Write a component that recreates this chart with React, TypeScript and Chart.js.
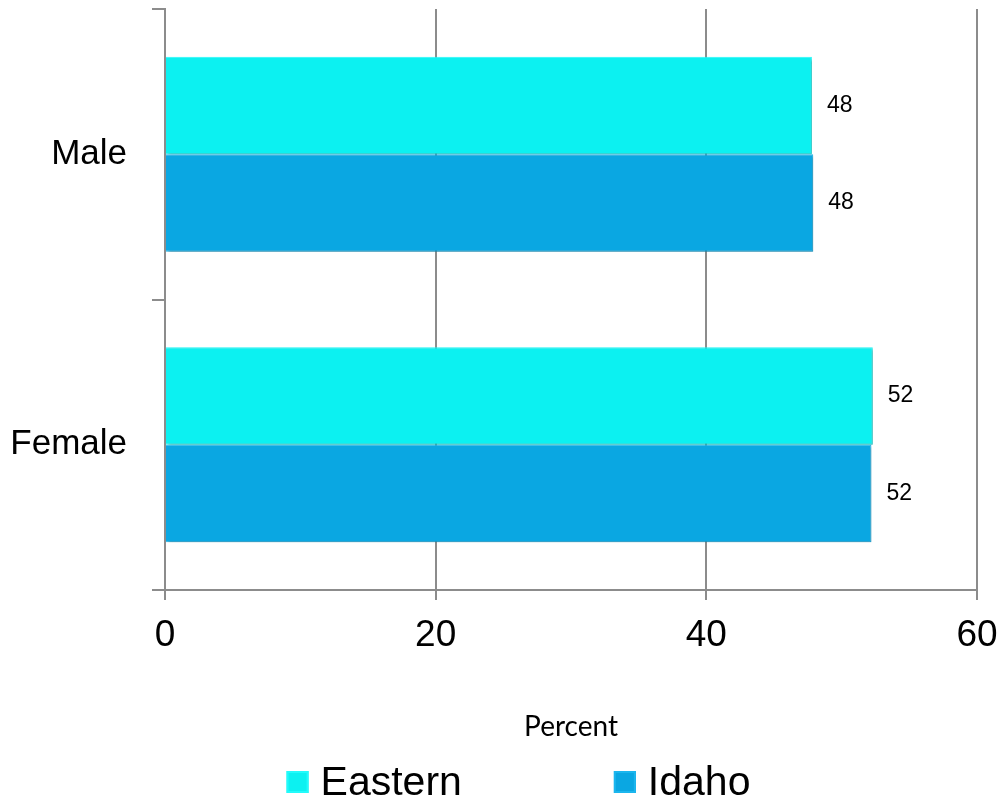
import React, { useEffect, useRef } from "react";
import { Chart, registerables } from "chart.js";

Chart.register(...registerables);

const categories = ["Male", "Female"];
const seriesNames = ["Eastern", "Idaho"];
const easternValues = [47.8, 52.3];
const idahoValues = [47.9, 52.2];
const xMin = 0;
const xMax = 60;
const xStep = 20;
const axisTitle = "Percent";

const seriesColors = ["#0cf1f1", "#0aa7e2"];
const seriesBorders = ["#22fbfb", "#1bb6ee"];

const barLabelsPlugin = {
  id: "barLabels",
  beforeDatasetsDraw(chart: any) {
    const ctx = chart.ctx;
    ctx.save();
    ctx.shadowColor = "rgba(0,0,0,0.28)";
    ctx.shadowOffsetX = 2;
    ctx.shadowOffsetY = 2;
    ctx.shadowBlur = 3;
  },
  afterDatasetsDraw(chart: any) {
    const ctx = chart.ctx;
    ctx.restore();
    ctx.save();
    ctx.font = '23px "Liberation Sans", Arial, sans-serif';
    ctx.fillStyle = "#000";
    ctx.textAlign = "left";
    ctx.textBaseline = "middle";
    chart.data.datasets.forEach((ds: any, di: number) => {
      const meta = chart.getDatasetMeta(di);
      meta.data.forEach((el: any, i: number) => {
        const v = ds.data[i];
        ctx.fillText(String(Math.round(v)), el.x + 15, el.y);
      });
    });
    ctx.restore();
  },
};

const legendPlugin = {
  id: "bottomLegend",
  afterDraw(chart: any) {
    const ctx = chart.ctx;
    ctx.save();
    ctx.font = '41px "Liberation Sans", Arial, sans-serif';
    const box = 22;
    const gap = 12;
    const spacing = 152;
    const items = chart.data.datasets.map((ds: any) => ({
      label: ds.label,
      color: ds.backgroundColor,
      border: ds.borderColor,
      w: box + gap + ctx.measureText(ds.label).width,
    }));
    const total =
      items.reduce((a: number, it: any) => a + it.w, 0) +
      spacing * (items.length - 1);
    let x = chart.width / 2 + 18 - total / 2;
    const cy = chart.height - 18;
    items.forEach((it: any) => {
      ctx.fillStyle = it.color;
      ctx.fillRect(x, cy - box / 2, box, box);
      ctx.strokeStyle = it.border;
      ctx.lineWidth = 2;
      ctx.strokeRect(x + 1, cy - box / 2 + 1, box - 2, box - 2);
      ctx.fillStyle = "#000";
      ctx.textAlign = "left";
      ctx.textBaseline = "alphabetic";
      ctx.fillText(it.label, x + box + gap, cy + 12.5);
      x += it.w + spacing;
    });
    ctx.restore();
  },
};

export default function App() {
  const canvasRef = useRef<HTMLCanvasElement | null>(null);

  useEffect(() => {
    if (!canvasRef.current) return;
    const chart = new Chart(canvasRef.current, {
      type: "bar",
      data: {
        labels: categories,
        datasets: [
          {
            label: seriesNames[0],
            data: easternValues,
            backgroundColor: seriesColors[0],
            borderColor: seriesBorders[0],
            borderWidth: 1,
            categoryPercentage: 0.672,
            barPercentage: 1,
          },
          {
            label: seriesNames[1],
            data: idahoValues,
            backgroundColor: seriesColors[1],
            borderColor: seriesBorders[1],
            borderWidth: 1,
            categoryPercentage: 0.672,
            barPercentage: 1,
          },
        ],
      },
      options: {
        indexAxis: "y",
        animation: false,
        responsive: false,
        maintainAspectRatio: false,
        layout: { padding: { top: 9, right: 24, bottom: 40, left: 0 } },
        plugins: {
          legend: { display: false },
          tooltip: { enabled: false },
        },
        scales: {
          x: {
            min: xMin,
            max: xMax,
            ticks: {
              stepSize: xStep,
              color: "#000",
              padding: 14,
              font: { family: '"Liberation Sans", Arial, sans-serif', size: 37 },
            },
            grid: { color: "#8c8c8c", lineWidth: 2, tickLength: 10 },
            border: { color: "#8c8c8c", width: 2 },
            title: {
              display: true,
              text: axisTitle,
              color: "#000",
              font: { family: "Lato, sans-serif", size: 28 },
              padding: { top: 0, bottom: 16 },
            },
            afterFit: (s: any) => {
              s.height = 170;
              s.paddingLeft = 0;
              s.paddingRight = 0;
            },
          },
          y: {
            ticks: {
              color: "#000",
              padding: 25,
              font: { family: '"Liberation Sans", Arial, sans-serif', size: 35 },
            },
            grid: {
              drawOnChartArea: false,
              color: "#8c8c8c",
              lineWidth: 2,
              tickLength: 13,
              offset: true,
            },
            border: { color: "#8c8c8c", width: 2 },
            afterFit: (s: any) => {
              s.width = 165;
              s.paddingTop = 0;
              s.paddingBottom = 0;
            },
          },
        },
      } as any,
      plugins: [barLabelsPlugin, legendPlugin],
    });
    return () => chart.destroy();
  }, []);

  return (
    <div style={{ position: "fixed", left: 0, top: 0, width: 1001, height: 800, background: "#fff" }}>
      <canvas ref={canvasRef} width={1001} height={800} style={{ display: "block" }} />
    </div>
  );
}
